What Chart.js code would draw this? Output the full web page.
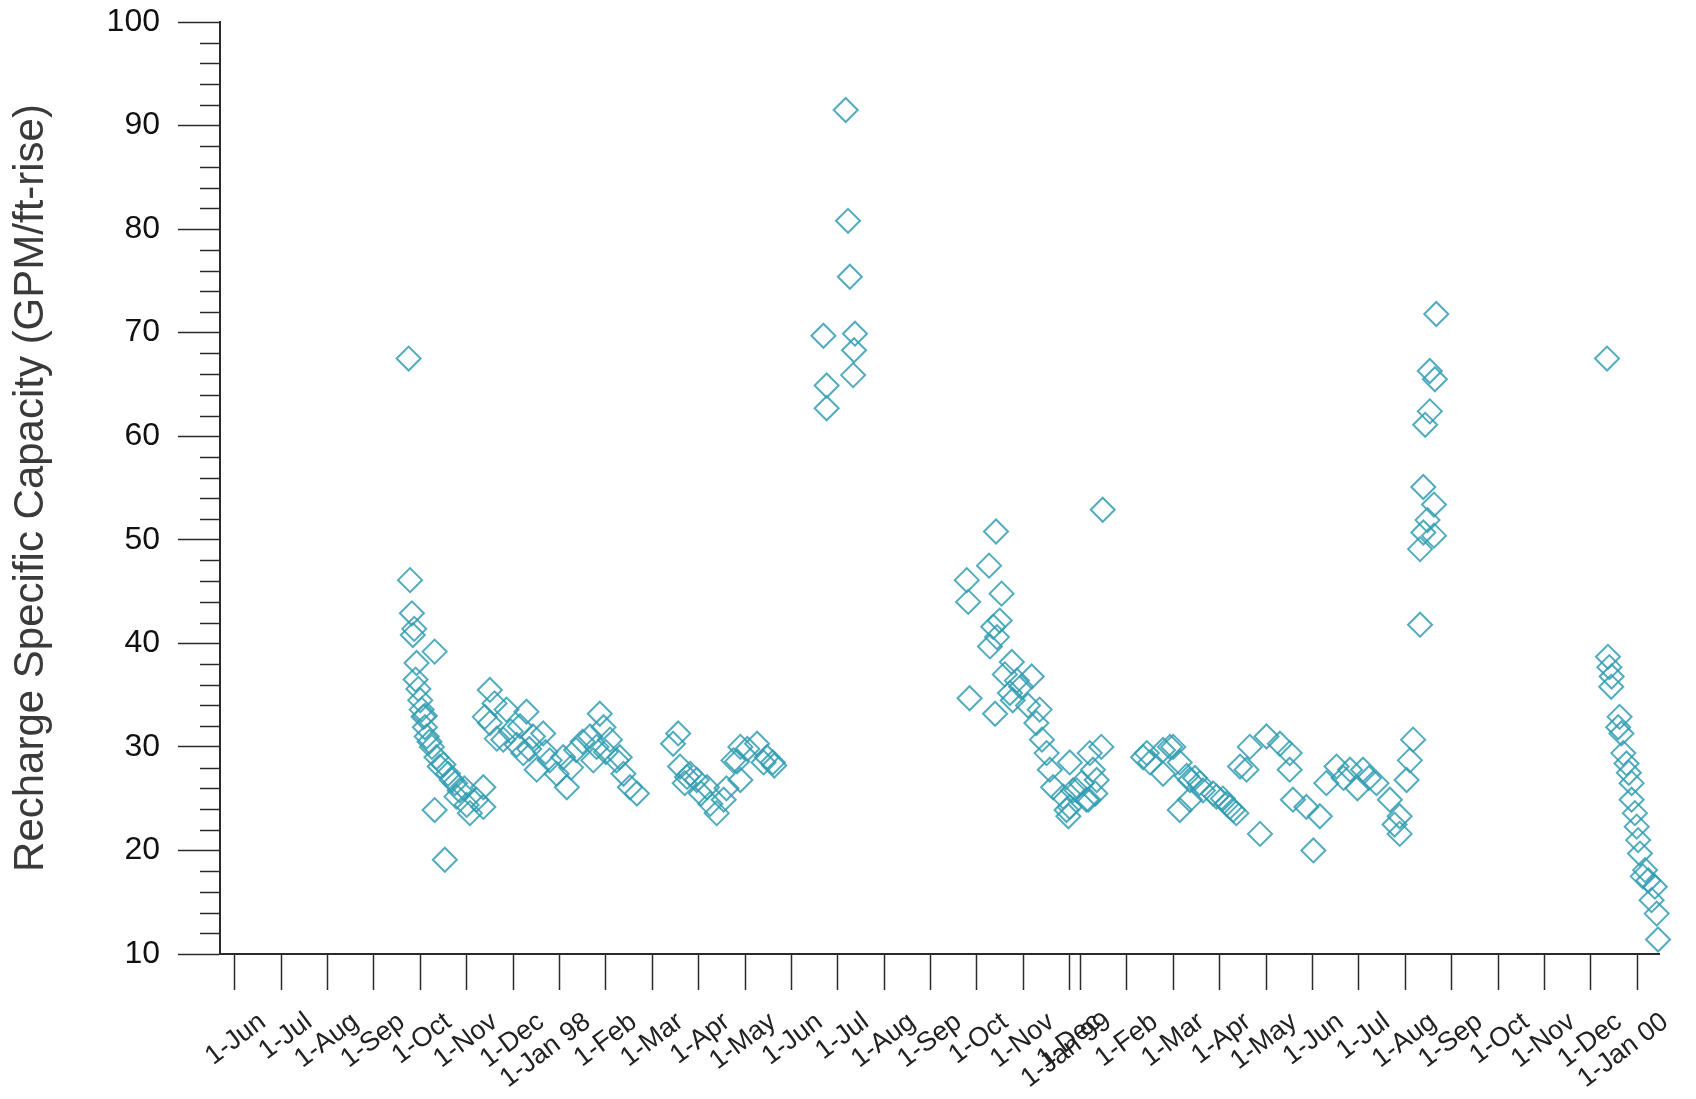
<!doctype html>
<html>

<head>
	<title>Recharge Specific Capacity</title>
	<script src="https://cdn.jsdelivr.net/npm/chart.js@4.4.0/dist/chart.umd.min.js"></script>
	<style>
	body { margin: 0; background: #fff; }
	#wrap { width: 1696px; height: 1099px; }
	</style>
</head>

<body>
	<div id="wrap">
		<canvas id="canvas"></canvas>
	</div>
	<script>
		// x values are positions on the original date axis, in months from 1-Jun-97
		// (that axis squeezes Dec-98 to Jan-99 into a quarter month)
		const tickLabels = ['1-Jun', '1-Jul', '1-Aug', '1-Sep', '1-Oct', '1-Nov', '1-Dec', '1-Jan 98',
			'1-Feb', '1-Mar', '1-Apr', '1-May', '1-Jun', '1-Jul', '1-Aug', '1-Sep', '1-Oct', '1-Nov', '1-Dec',
			'1-Jan 99', '1-Feb', '1-Mar', '1-Apr', '1-May', '1-Jun', '1-Jul', '1-Aug', '1-Sep', '1-Oct',
			'1-Nov', '1-Dec', '1-Jan 00'];
		const tickPos = [0, 1, 2, 3, 4, 5, 6, 7, 8, 9, 10, 11, 12, 13, 14, 15, 16, 17, 18,
			18.23, 19.23, 20.23, 21.23, 22.23, 23.23, 24.23, 25.23, 26.23, 27.23, 28.23, 29.23, 30.23];

		const sep97 = [[3.75,67.5],[3.78,46.1],[3.82,42.9],[3.87,41.4],[3.84,40.8],[4.31,39.2],[3.92,38.1],
			[3.96,35.6],[4.00,34.5],[4.03,33.6],[4.07,32.9],[4.10,31.9],[4.14,31.0],[4.25,30.0],[4.35,29.0],
			[4.42,28.1],[4.60,27.4],[4.75,26.5],[4.85,25.8],[5.36,26.1],[5.21,24.9],[5.07,23.6],[4.31,23.9],
			[4.53,19.1],[5.00,24.4],[4.78,25.2],[5.36,24.2],[4.68,26.8],[4.20,30.5],[4.50,28.3],[4.95,26.0],
			[4.10,33.0],[3.90,36.5]];
		const nov97 = [[5.50,35.5],[5.39,32.9],[5.50,32.3],[5.86,33.6],[6.29,33.4],[5.79,30.7],[6.08,30.2],
			[6.22,29.4],[6.43,31.0],[6.65,31.3],[6.51,27.8],[6.79,28.7],[6.94,27.4],[7.16,26.1],[7.08,29.0],
			[7.36,29.7],[7.66,31.0],[7.87,33.2],[7.95,31.9],[8.09,30.7],[8.23,28.7],[8.38,27.4],[8.52,26.1],
			[8.67,25.5],[7.73,28.7],[5.95,31.5],[6.15,32.0],[6.35,29.8],[5.65,30.8],[7.50,30.5],[7.80,30.0],
			[8.00,29.5],[8.30,29.0],[6.70,29.5],[7.25,28.0],[5.60,34.2]];
		const mar98 = [[9.56,31.3],[9.45,30.3],[9.60,28.1],[9.75,27.1],[9.82,27.4],[9.96,26.8],[10.18,26.1],
			[10.39,23.6],[10.54,24.9],[10.25,24.5],[10.90,30.0],[10.75,28.7],[10.83,28.6],[10.90,26.8],
			[11.26,30.3],[11.47,29.0],[11.60,28.5],[11.63,28.2],[9.70,26.5],[10.05,25.5],[10.60,26.0],
			[11.05,29.8],[11.40,28.5]];
		const jul98 = [[13.17,91.5],[13.22,80.8],[13.26,75.4],[12.69,69.7],[13.37,69.9],[13.35,68.3],
			[13.33,65.9],[12.76,64.9],[12.76,62.7]];
		const sep98 = [[15.78,46.1],[15.81,44.0],[16.41,50.8],[16.26,47.5],[16.53,44.8],[16.49,42.2],
			[16.35,41.6],[16.43,40.6],[16.28,39.7],[16.75,38.2],[17.18,36.8],[16.86,36.4],[16.71,35.2],
			[15.84,34.7],[16.39,33.2],[16.77,34.5],[17.35,33.6],[17.28,32.3],[17.40,30.7],[17.50,29.4],
			[17.57,27.8],[17.64,26.1],[17.86,25.2],[17.97,23.3],[16.60,37.0],[16.95,35.8],[17.10,34.0],
			[18.15,25.8],[18.40,24.9],[18.58,26.8],[18.00,24.2],[18.43,29.4],[18.68,30.0],[18.50,27.8],
			[18.00,28.5],[18.07,25.8],[18.36,24.9],[17.93,23.9],[18.71,52.9],[18.25,26.5],[18.55,25.5]];
		const feb99 = [[19.58,29.0],[20.01,29.7],[20.23,30.0],[20.37,28.5],[20.01,27.4],[20.59,26.8],
			[20.87,25.8],[21.16,25.2],[21.45,24.2],[21.59,23.6],[20.37,23.9],[20.59,24.9],[22.10,21.6],
			[21.88,30.0],[22.24,31.0],[22.53,30.3],[22.74,29.4],[21.67,28.1],[19.66,29.4],[19.73,28.5],
			[20.16,30.0],[20.52,27.2],[20.80,26.5],[21.09,25.5],[21.38,24.5],[21.52,23.9],[21.81,27.8],
			[22.74,27.8],[22.81,24.9],[23.10,24.2],[23.39,23.3],[23.25,20.0],[23.53,26.5],[23.75,28.1],
			[24.04,27.8],[24.32,27.8],[24.61,26.5],[24.90,24.9],[25.11,23.3],[25.11,21.6],[25.40,30.7],
			[25.33,28.7],[25.26,26.8],[20.70,27.0],[21.30,25.0],[23.90,27.0],[24.45,27.0],[24.20,26.0],
			[25.00,22.5]];
		const aug99 = [[25.90,71.8],[25.76,66.3],[25.87,65.5],[25.76,62.4],[25.66,61.1],[25.62,55.1],
			[25.85,53.4],[25.71,51.9],[25.62,50.7],[25.85,50.4],[25.55,49.1],[25.55,41.8]];
		const dec99 = [[29.58,67.5],[29.60,38.7],[29.63,37.7],[29.68,36.8],[29.67,35.8],[29.85,32.9],
			[29.82,31.9],[29.89,31.3],[29.93,29.4],[30.00,28.4],[30.11,26.5],[30.11,24.9],[30.18,23.6],
			[30.22,22.3],[30.25,21.0],[30.29,19.7],[30.40,18.1],[30.47,17.1],[30.61,16.5],[30.54,15.2],
			[30.65,13.9],[30.68,11.4],[30.35,17.5],[30.05,27.5]];

		const allPoints = [].concat(sep97, nov97, mar98, jul98, sep98, feb99, aug99, dec99)
			.map(p => ({ x: p[0], y: p[1] }));

		const font = "'Liberation Sans', Arial, sans-serif";
		const axisColor = '#2a2a2a';

		// short ticks every 2 units between the labelled ones
		const minorTicks = {
			id: 'minorTicks',
			afterDraw(chart) {
				const y = chart.scales.y;
				const ctx = chart.ctx;
				const left = chart.chartArea.left;
				ctx.save();
				ctx.strokeStyle = axisColor;
				ctx.lineWidth = 1.5;
				for (let v = 12; v < 100; v += 2) {
					if (v % 10 === 0) continue;
					const py = Math.round(y.getPixelForValue(v)) + 0.5;
					ctx.beginPath();
					ctx.moveTo(left - 20, py);
					ctx.lineTo(left, py);
					ctx.stroke();
				}
				ctx.restore();
			}
		};

		new Chart(document.getElementById('canvas'), {
			type: 'scatter',
			data: {
				datasets: [{
					data: allPoints,
					pointStyle: 'rectRot',
					pointRadius: 12,
					borderWidth: 2,
					borderColor: 'rgba(50, 158, 178, 0.85)',
					backgroundColor: 'rgba(0, 0, 0, 0)',
					clip: false
				}]
			},
			options: {
				responsive: true,
				maintainAspectRatio: false,
				animation: false,
				layout: { padding: { top: 22, right: 37, left: 0, bottom: 0 } },
				plugins: {
					legend: { display: false },
					tooltip: { enabled: false }
				},
				scales: {
					x: {
						type: 'linear',
						min: -0.316,
						max: 30.70,
						border: { color: axisColor, width: 2 },
						grid: { drawOnChartArea: false, tickLength: 36, tickColor: axisColor, tickWidth: 1.5 },
						afterBuildTicks: s => { s.ticks = tickPos.map(v => ({ value: v })); },
						afterFit: s => { s.height = 145; },
						ticks: {
							autoSkip: false,
							minRotation: 37,
							maxRotation: 37,
							labelOffset: 28,
							padding: 16,
							color: '#222',
							font: { family: font, size: 27 },
							callback: (v, i) => tickLabels[i]
						}
					},
					y: {
						min: 10,
						max: 100,
						border: { color: axisColor, width: 2 },
						grid: { drawOnChartArea: false, tickLength: 42, tickColor: axisColor, tickWidth: 1.5 },
						afterFit: s => { s.width = 220; s.paddingTop = 0; s.paddingBottom = 0; },
						ticks: {
							stepSize: 10,
							padding: 18,
							color: '#111',
							font: { family: font, size: 32 }
						},
						title: {
							display: true,
							text: 'Recharge Specific Capacity (GPM/ft-rise)',
							color: '#3a3a3a',
							font: { family: font, size: 42 },
							padding: { top: 6, bottom: 0 }
						}
					}
				}
			},
			plugins: [minorTicks]
		});
	</script>
</body>

</html>
